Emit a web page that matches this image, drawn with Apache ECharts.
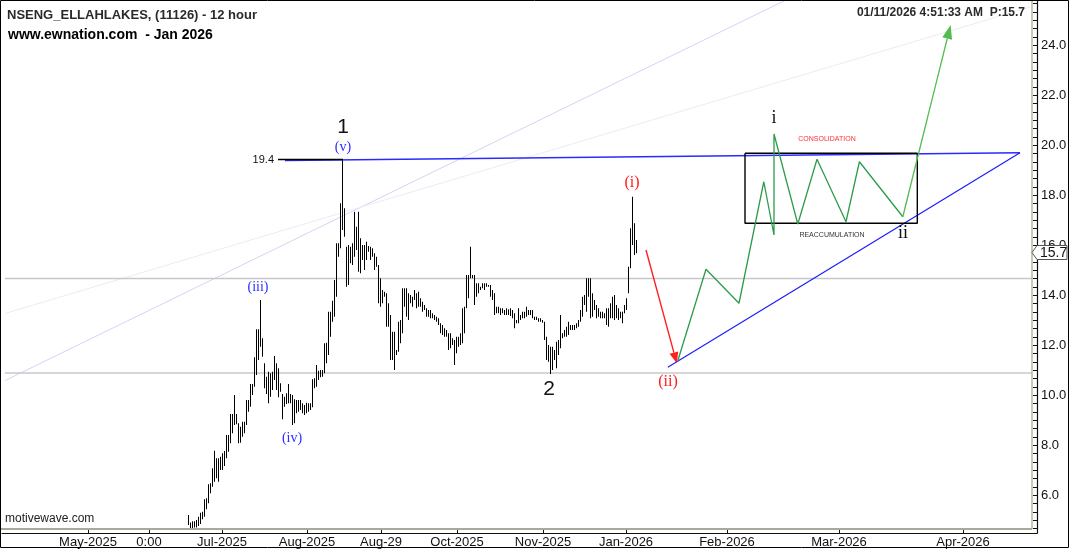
<!DOCTYPE html>
<html><head><meta charset="utf-8">
<script src="https://cdn.jsdelivr.net/npm/echarts@6/dist/echarts.min.js"></script>
<style>html,body{margin:0;padding:0;background:#fff}#c{width:1070px;height:550px}</style>
</head><body><div id="c"></div>
<script>
// ---- data ----
const firstBar = 93; // x position (bar units) of the first bar in lows/highs
const lows = [
4.8, 4.6, 4.6, 4.7,
4.7, 4.76, 4.84, 5.03, 5.13, 5.43, 5.67, 6.07, 6.33, 6.53,
6.67, 6.53, 7.0, 7.0, 7.16, 7.47, 7.73, 8.07, 8.47, 8.8,
8.83, 8.07, 8.09, 8.33, 8.47, 8.8, 9.33, 9.53, 10.0, 10.33,
10.8, 11.4, 11.93, 11.53, 10.27, 10.04, 9.67, 9.93, 10.2, 10.6,
10.2, 9.91, 10.13, 9.03, 9.53, 9.64, 9.67, 9.67, 8.8, 8.87,
9.27, 9.33, 9.4, 9.27, 9.2, 9.27, 9.33, 9.4, 9.51, 10.27,
10.33, 10.6, 10.71, 10.73, 10.87, 11.27, 11.6, 12.33, 12.93, 13.13,
13.93, 15.53, 15.87, 16.6, 16.33, 14.33, 14.4, 15.27, 15.2, 15.53,
15.8, 14.93, 14.87, 15.4, 15.0, 15.4, 15.73, 15.4, 15.53, 15.0,
15.13, 13.67, 13.53, 13.67, 13.93, 12.73, 12.73, 11.4, 11.4, 11.0,
11.6, 11.73, 12.07, 12.47, 13.53, 13.13, 13.0, 13.67, 13.53, 13.8,
13.47, 13.53, 13.53, 13.33, 13.4, 13.13, 13.13, 13.07, 13.07, 13.0,
12.93, 12.8, 12.47, 12.4, 12.33, 12.33, 11.8, 11.87, 12.0, 11.2,
11.67, 11.93, 12.0, 12.07, 12.47, 13.47, 13.87, 14.67, 14.67, 13.6,
13.93, 14.07, 14.2, 14.27, 14.2, 14.33, 14.33, 13.93, 13.8, 13.2,
13.27, 13.27, 13.2, 13.27, 13.2, 13.2, 13.2, 13.16, 13.07, 12.67,
12.87, 12.87, 13.0, 13.07, 13.07, 13.13, 13.2, 13.2, 13.07, 13.0,
13.0, 12.93, 12.93, 12.89, 12.2, 11.4, 11.33, 10.84, 11.0, 11.4,
11.07, 11.6, 11.87, 12.27, 12.33, 12.33, 12.4, 12.6, 12.6, 12.6,
12.67, 12.73, 12.93, 13.13, 13.6, 13.33, 13.93, 13.07, 13.13, 13.4,
13.07, 13.13, 13.07, 13.07, 13.07, 12.8, 12.73, 13.07, 13.07, 13.0,
13.07, 13.0, 13.07, 12.87, 13.27, 13.4, 14.07, 15.07, 16.0, 15.6, 15.67
];
const highs = [
5.2, 4.9, 4.95, 4.95,
5.0, 5.13, 5.29, 5.33, 5.83, 5.87, 6.43, 6.47, 7.07, 7.77,
7.47, 7.47, 7.53, 7.67, 7.76, 8.4, 8.4, 9.24, 9.24, 10.0,
9.24, 8.87, 8.73, 8.93, 8.93, 9.8, 9.8, 10.44, 10.44, 11.51,
12.63, 12.63, 13.8, 12.27, 11.27, 10.73, 10.93, 10.87, 10.93, 11.56,
11.27, 11.07, 10.47, 10.04, 9.93, 10.07, 10.44, 10.04, 10.0, 9.83,
9.8, 9.8, 9.8, 9.67, 9.6, 9.69, 9.67, 9.67, 10.63, 10.67,
11.2, 10.97, 11.0, 11.0, 12.07, 12.09, 13.33, 13.33, 13.77, 14.6,
16.07, 16.07, 17.67, 19.42, 17.47, 15.93, 16.0, 15.93, 16.07, 17.33,
16.73, 17.33, 16.27, 16.0, 16.0, 16.13, 15.96, 15.93, 15.87, 15.67,
15.53, 15.2, 14.67, 14.2, 14.13, 14.07, 13.67, 13.2, 12.53, 12.53,
11.8, 12.93, 13.0, 14.27, 14.27, 14.27, 14.07, 14.0, 13.93, 14.2,
14.07, 14.13, 13.87, 13.73, 13.6, 13.47, 13.4, 13.4, 13.27, 13.2,
13.13, 13.07, 12.87, 12.8, 12.67, 12.6, 12.47, 12.47, 12.27, 12.2,
12.33, 12.33, 12.47, 13.47, 13.53, 14.8, 14.8, 15.93, 14.8, 14.8,
14.47, 14.47, 14.33, 14.47, 14.47, 14.47, 14.4, 14.4, 14.2, 14.07,
13.53, 13.53, 13.47, 13.47, 13.4, 13.47, 13.43, 13.47, 13.4, 13.27,
13.0, 13.47, 13.2, 13.33, 13.33, 13.53, 13.4, 13.4, 13.4, 13.13,
13.13, 13.07, 13.07, 13.0, 12.93, 12.33, 12.0, 11.93, 11.93, 11.8,
12.13, 12.2, 13.2, 12.47, 12.6, 12.73, 12.93, 12.8, 12.8, 12.8,
12.87, 13.0, 13.4, 13.93, 14.0, 14.67, 14.67, 14.67, 14.07, 13.8,
13.6, 13.47, 13.33, 13.33, 13.27, 13.47, 13.47, 13.67, 13.93, 14.0,
13.6, 13.47, 13.33, 13.33, 13.6, 13.87, 15.13, 16.67, 17.93, 16.87, 16.2
];
const lastPrice = 15.7;

const xTickPos = [43, 73.5, 110, 152.5, 189.5, 227.5, 270.5, 312, 362.5, 418.5, 480.5];
const xTickLabels = ['May-2025', '0:00', 'Jul-2025', 'Aug-2025', 'Aug-29', 'Oct-2025', 'Nov-2025', 'Jan-2026', 'Feb-2026', 'Mar-2026', 'Apr-2026'];
const yTickValues = [6, 8, 10, 12, 14, 16, 18, 20, 22, 24];

const projPath = [[337.9, 11.37], [352, 15.03], [368.5, 13.67], [380.9, 18.53], [386, 16.4], [386, 20.44], [397.9, 16.84], [407.5, 19.43], [422, 16.93], [428.7, 19.33], [450.4, 17.13]];
const projTarget = [474.3, 24.8];
const redArrow = [[322, 15.8], [337.4, 11.27]];
const resistance = [[141.5, 19.38], [509, 19.69]];
const support = [[332.9, 11.11], [509, 19.69]];
const level194 = [[138, 19.42], [170.5, 19.42]];
const hLevels = [14.66, 10.88];
const fanA = [[-1, 10.48], [392, 25.8]];
const fanB = [[-1, 13.2], [514, 25.52]];
const boxCorners = [[371.5, 19.67], [457.65, 16.87]];

const labelTexts = ['1', '(v)', '(iii)', '(iv)', '2', '(i)', '(ii)', 'i', 'ii', 'CONSOLIDATION', 'REACCUMULATION', '19.4'];
const labelX = [170.5, 170.5, 128, 145, 273.5, 315, 333, 386, 450.5, 412.5, 415, 136];
const labelY = [20.72, 19.92, 14.32, 8.28, 10.24, 18.48, 10.52, 21.08, 16.48, 20.24, 16.4, 19.42];

// ---- styles ----
const SERIF = '"Liberation Serif","DejaVu Serif",serif';
const SANS = 'Arial,"Liberation Sans",sans-serif';
const labelStyles = [
  {font: '21px ' + SANS, fill: '#111', align: 'center'},
  {font: '14px ' + SERIF, fill: '#2b2bff', align: 'center'},
  {font: '14px ' + SERIF, fill: '#2b2bff', align: 'center'},
  {font: '14px ' + SERIF, fill: '#2b2bff', align: 'center'},
  {font: '21px ' + SANS, fill: '#111', align: 'center'},
  {font: '16px ' + SERIF, fill: '#ff1a1a', align: 'center'},
  {font: '16px ' + SERIF, fill: '#ff1a1a', align: 'center'},
  {font: '18px ' + SERIF, fill: '#111', align: 'center'},
  {font: '18px ' + SERIF, fill: '#111', align: 'center'},
  {font: '7px ' + SANS, fill: '#ff3030', align: 'center'},
  {font: '7px ' + SANS, fill: '#333', align: 'center'},
  {font: '11px ' + SANS, fill: '#111', align: 'right'}
];
const arrowColors = ['#ff2020', '#52bd4f'];
const arrowWidths = [1.4, 1.3];
const arrowHead = [[11, 4.5], [14, 5]]; // length, half-width (px)

const xMax = 517.5;
const bars = lows.map((l, i) => [firstBar + i, l, highs[i]]);
const arrows = [
  [redArrow[0][0], redArrow[0][1], redArrow[1][0], redArrow[1][1], 0],
  [projPath[projPath.length - 1][0], projPath[projPath.length - 1][1], projTarget[0], projTarget[1], 1]
];
const boxPath = [
  [boxCorners[0][0], boxCorners[0][1]], [boxCorners[1][0], boxCorners[0][1]],
  [boxCorners[1][0], boxCorners[1][1]], [boxCorners[0][0], boxCorners[1][1]],
  [boxCorners[0][0], boxCorners[0][1]]
];
const yTickMarks = [];
for (let t = 14; t <= 77; t++) yTickMarks.push([xMax, t / 3]);

function lineSeries(data, color, width, z) {
  return {type: 'line', data: data, symbol: 'none', silent: true, clip: true, z: z || 2,
    lineStyle: {color: color, width: width}, animation: false};
}

const chart = echarts.init(document.getElementById('c'), null, {renderer: 'canvas'});
const option = {
  animation: false,
  backgroundColor: '#fff',
  grid: {left: 2, right: 33, top: 0, bottom: 17, containLabel: false, outerBoundsMode: 'none'},
  xAxis: {
    type: 'value', min: 0, max: xMax,
    axisLine: {show: true, onZero: false, lineStyle: {color: '#111', width: 1.2}},
    axisTick: {show: true, inside: true, length: 4, customValues: xTickPos, lineStyle: {color: '#111'}},
    axisLabel: {show: true, customValues: xTickPos, margin: 3, color: '#111',
      fontFamily: SANS, fontSize: 13,
      formatter: v => { const i = xTickPos.indexOf(v); return i >= 0 ? xTickLabels[i] : ''; }},
    splitLine: {show: false}
  },
  yAxis: {
    type: 'value', position: 'right', min: 4.48, max: 25.8,
    axisLine: {show: true, onZero: false, lineStyle: {color: '#111', width: 1.2}},
    axisTick: {show: false},
    axisLabel: {show: true, customValues: yTickValues, margin: 4, color: '#111',
      fontFamily: SANS, fontSize: 13, formatter: v => v.toFixed(1)},
    splitLine: {show: false}
  },
  series: [
    lineSeries(fanA, '#d4d4f5', 1, 1),
    lineSeries(fanB, '#ebebf7', 1, 1),
    lineSeries([[0, hLevels[0]], [515, hLevels[0]]], '#c8c8c8', 1.5, 1),
    lineSeries([[0, hLevels[1]], [515, hLevels[1]]], '#c8c8c8', 1.5, 1),
    {
      type: 'custom', data: bars, clip: true, silent: true, z: 3,
      encode: {x: 0, y: [1, 2]},
      renderItem: function (params, api) {
        const p1 = api.coord([api.value(0), api.value(1)]);
        const p2 = api.coord([api.value(0), api.value(2)]);
        const x = Math.round(p1[0]) + 0.5;
        return {type: 'line', shape: {x1: x, y1: p1[1], x2: x, y2: p2[1]},
          style: {stroke: '#000', lineWidth: 1}};
      }
    },
    {
      type: 'custom', data: yTickMarks, clip: false, silent: true, z: 21,
      encode: {x: 0, y: 1},
      renderItem: function (params, api) {
        const p = api.coord([api.value(0), api.value(1)]);
        const y = Math.round(p[1]) + 0.5;
        return {type: 'line', shape: {x1: p[0] - 4, y1: y, x2: p[0], y2: y},
          style: {stroke: '#111', lineWidth: 1}};
      }
    },
    lineSeries(resistance, '#2a2aff', 1.6, 4),
    lineSeries(level194, '#000', 1.5, 5),
    lineSeries(support, '#1c1cff', 1.2, 4),
    lineSeries(boxPath, '#000', 1.4, 4),
    lineSeries(projPath, '#2b9c4b', 1.3, 5),
    {
      type: 'custom', data: arrows, clip: false, silent: true, z: 6,
      encode: {x: [0, 2], y: [1, 3]},
      renderItem: function (params, api) {
        const a = api.coord([api.value(0), api.value(1)]);
        const b = api.coord([api.value(2), api.value(3)]);
        const k = api.value(4);
        const dx = b[0] - a[0], dy = b[1] - a[1];
        const len = Math.sqrt(dx * dx + dy * dy);
        const ux = dx / len, uy = dy / len;
        const hl = arrowHead[k][0], hw = arrowHead[k][1];
        const bx = b[0] - ux * hl, by = b[1] - uy * hl;
        return {type: 'group', children: [
          {type: 'line', shape: {x1: a[0], y1: a[1], x2: bx, y2: by},
            style: {stroke: arrowColors[k], lineWidth: arrowWidths[k]}},
          {type: 'polygon', shape: {points: [[b[0], b[1]], [bx - uy * hw, by + ux * hw], [bx + uy * hw, by - ux * hw]]},
            style: {fill: arrowColors[k]}}
        ]};
      }
    },
    {
      type: 'custom', data: labelTexts.map((t, i) => [labelX[i], labelY[i], i]), clip: false, silent: true, z: 10,
      encode: {x: 0, y: 1},
      renderItem: function (params, api) {
        const i = api.value(2);
        const p = api.coord([api.value(0), api.value(1)]);
        const s = labelStyles[i];
        return {type: 'text', x: p[0], y: p[1],
          style: {text: labelTexts[i], font: s.font, fill: s.fill, align: s.align, verticalAlign: 'middle'}};
      }
    }
  ]
};
chart.setOption(option);

const py = chart.convertToPixel({yAxisIndex: 0}, lastPrice);
chart.setOption({
  graphic: [
    {type: 'rect', shape: {x: 1, y: 1, width: 4, height: 526}, style: {fill: '#fff'}, silent: true, z: 40},
    {type: 'line', shape: {x1: 1032, y1: 0, x2: 1032, y2: 529}, style: {stroke: '#b5b5a8', lineWidth: 1.5}, silent: true, z: 41},
    {type: 'line', shape: {x1: 0, y1: 529, x2: 1032, y2: 529}, style: {stroke: '#a9a99a', lineWidth: 2}, silent: true, z: 41},
    {type: 'rect', shape: {x: 0.5, y: 0.5, width: 1068, height: 547}, style: {fill: 'none', stroke: '#000', lineWidth: 1}, silent: true, z: 45},
    {type: 'polygon', shape: {points: [[1032, py], [1037, py - 7], [1067, py - 7], [1067, py + 7], [1037, py + 7]]},
      style: {fill: '#fff', stroke: '#555', lineWidth: 1}, silent: true, z: 46},
    {type: 'text', x: 1040, y: py + 0.5, style: {text: String(lastPrice), font: '14px ' + SANS, fill: '#111', verticalAlign: 'middle'}, silent: true, z: 47},
    {type: 'text', x: 7, y: 15, style: {text: 'NSENG_ELLAHLAKES, (11126) - 12 hour', font: 'bold 13px ' + SANS, fill: '#2a2a2a', verticalAlign: 'middle'}, silent: true, z: 46},
    {type: 'text', x: 8, y: 35, style: {text: 'www.ewnation.com  - Jan 2026', font: 'bold 14px ' + SANS, fill: '#000', verticalAlign: 'middle'}, silent: true, z: 46},
    {type: 'text', x: 1025, y: 13, style: {text: '01/11/2026 4:51:33 AM  P:15.7', font: 'bold 12px ' + SANS, fill: '#2a2a2a', align: 'right', verticalAlign: 'middle'}, silent: true, z: 46},
    {type: 'text', x: 5, y: 519, style: {text: 'motivewave.com', font: '12px ' + SANS, fill: '#222', verticalAlign: 'middle'}, silent: true, z: 46}
  ]
});
</script>
</body></html>
